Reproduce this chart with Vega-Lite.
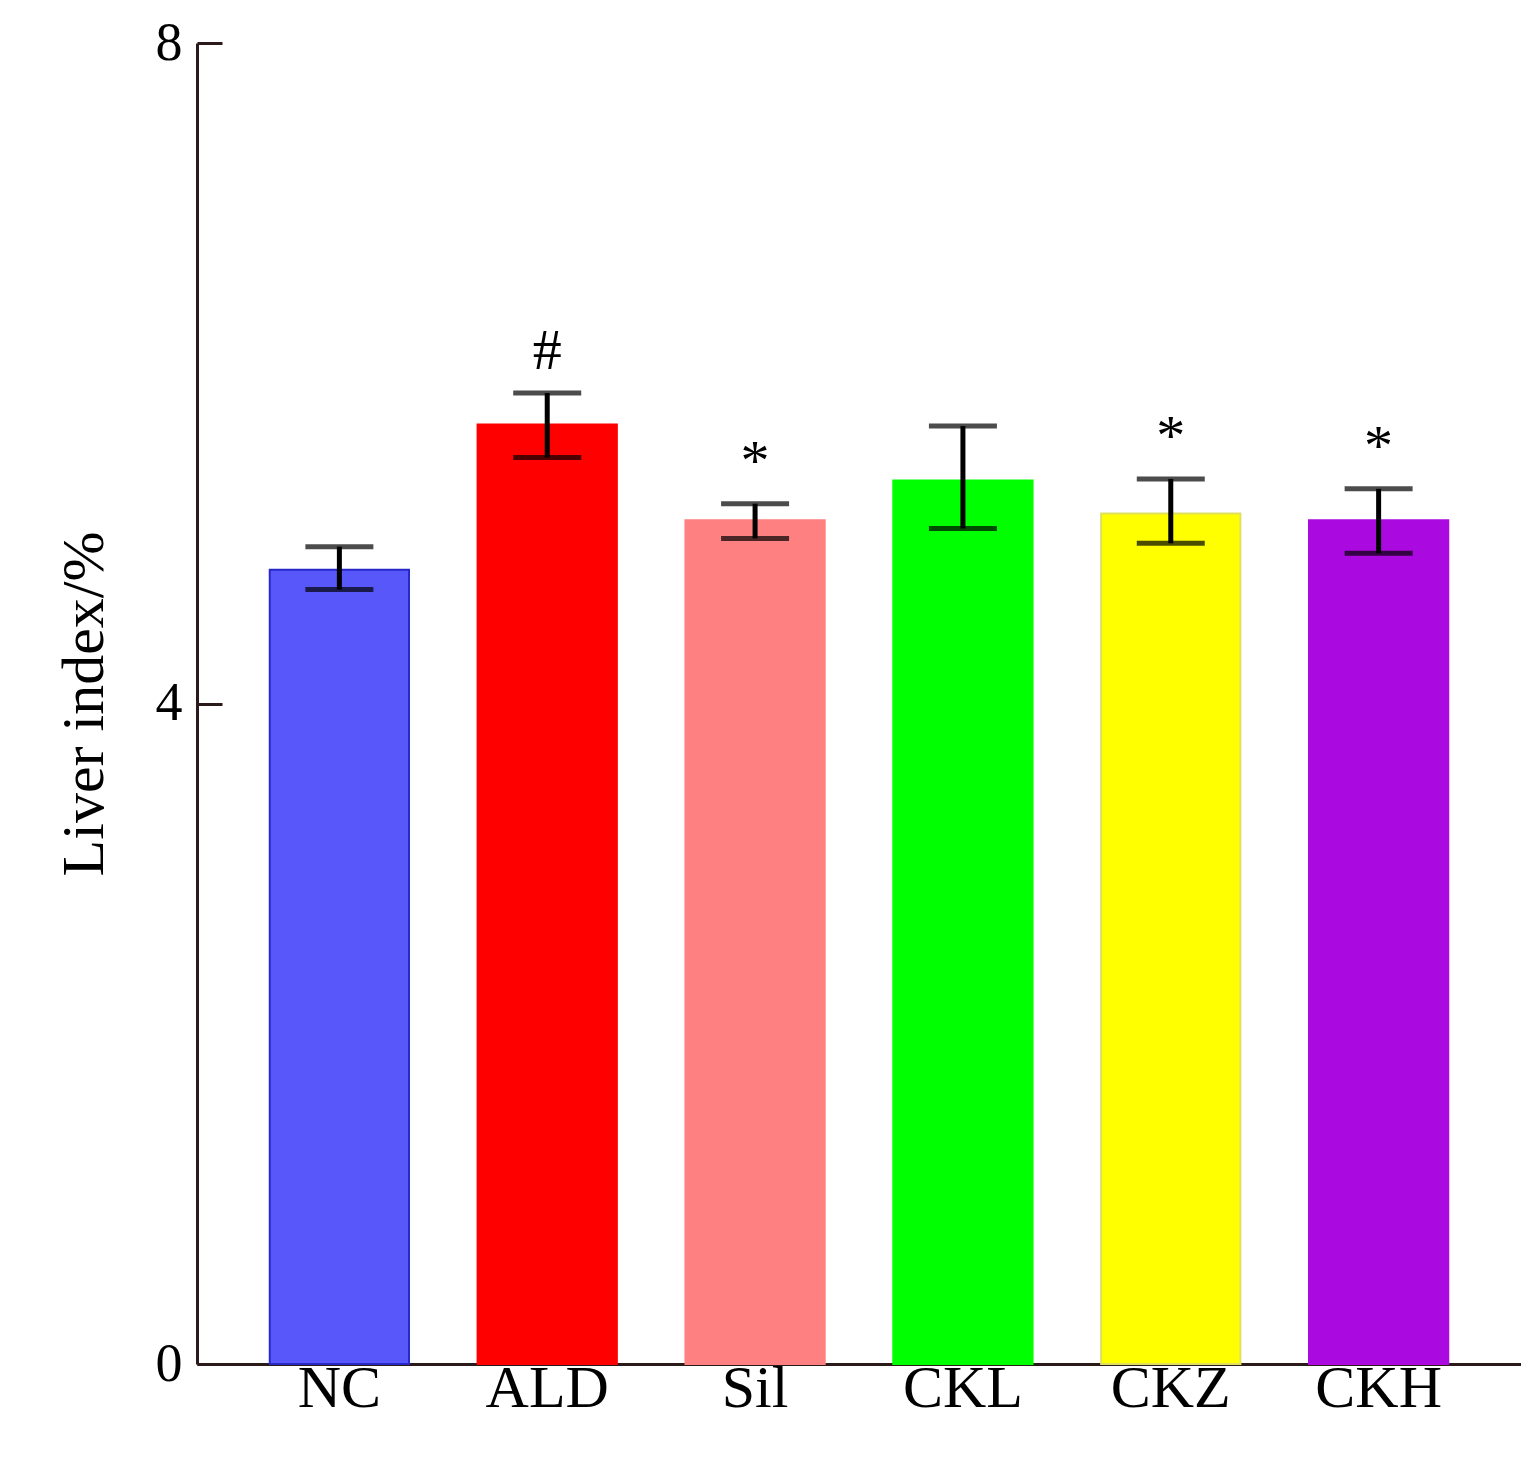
{
"$schema":"https://vega.github.io/schema/vega-lite/v6.json",
"width":1324,"height":1321,
"autosize":{"type":"none"},
"padding":{"left":197,"top":43,"right":0,"bottom":119},
"background":"white",
"config":{"view":{"stroke":null},"font":"Liberation Serif",
"axis":{"domainColor":"#2a1a1a","domainWidth":3,"tickColor":"#2a1a1a","tickWidth":3,"grid":false,"labelFont":"Liberation Serif","titleFont":"Liberation Serif","labelColor":"black","titleColor":"black","titleFontWeight":"normal"}},
"data":{"values":[
{"g":"NC","m":4.81,"lo":4.69,"hi":4.95,"s":""},
{"g":"ALD","m":5.69,"lo":5.49,"hi":5.88,"s":"#"},
{"g":"Sil","m":5.11,"lo":5.0,"hi":5.21,"s":"*"},
{"g":"CKL","m":5.35,"lo":5.06,"hi":5.68,"s":""},
{"g":"CKZ","m":5.15,"lo":4.97,"hi":5.36,"s":"*"},
{"g":"CKH","m":5.11,"lo":4.91,"hi":5.3,"s":"*"}]},
"encoding":{"x":{"field":"g","type":"nominal","sort":null,
"scale":{"paddingInner":0.33,"paddingOuter":0.35},
"axis":{"title":null,"labelAngle":0,"labelFontSize":60,"tickSize":-25,"labelPadding":20,"domainColor":"#2a1a1a"}}},
"layer":[
{"mark":{"type":"bar","strokeWidth":2},
"encoding":{"y":{"field":"m","type":"quantitative","scale":{"domain":[0,8]},
"axis":{"title":"Liver index/%","titleFontSize":60,"labelFontSize":54,"tickCount":4,"values":[0,2,4,6,8],"tickSize":-25,"labelPadding":40,"titlePadding":40}},
"fill":{"field":"g","type":"nominal","legend":null,"scale":{"domain":["NC","ALD","Sil","CKL","CKZ","CKH"],"range":["#5757FA","#FF0000","#FF8080","#00FF00","#FFFF00","#AA0AE0"]}},
"stroke":{"field":"g","type":"nominal","legend":null,"scale":{"domain":["NC","ALD","Sil","CKL","CKZ","CKH"],"range":["#2828C8","#FF0000","#FF8080","#00FF00","#E0E060","#AA0AE0"]}}}},
{"mark":{"type":"rule","strokeWidth":5,"color":"black"},"encoding":{"y":{"field":"lo","type":"quantitative"},"y2":{"field":"hi"}}},
{"mark":{"type":"tick","thickness":5,"size":68,"color":"black"},"encoding":{"y":{"field":"lo","type":"quantitative"}}},
{"mark":{"type":"tick","thickness":5,"size":68,"color":"black"},"encoding":{"y":{"field":"hi","type":"quantitative"}}},
{"mark":{"type":"text","fontSize":58,"dy":-12,"baseline":"bottom","color":"black"},"encoding":{"y":{"field":"hi","type":"quantitative"},"text":{"field":"s"}}}
]}
